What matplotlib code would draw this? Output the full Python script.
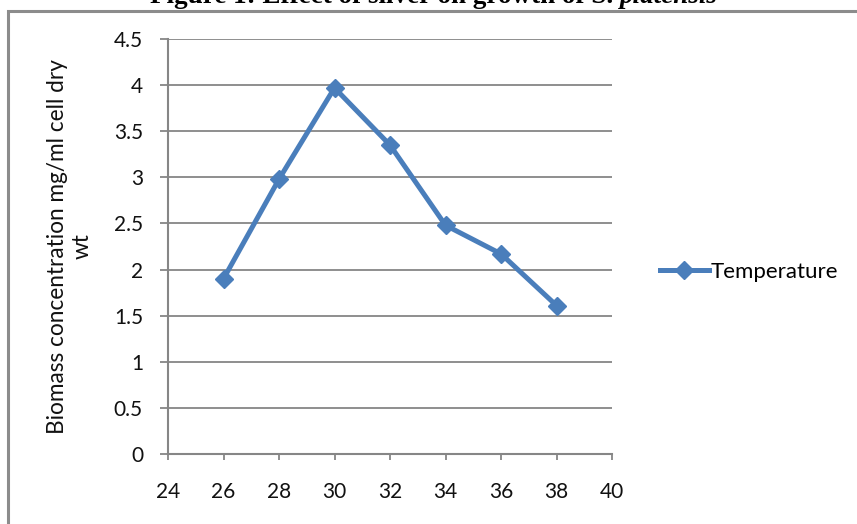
import matplotlib
matplotlib.use("Agg")
import matplotlib.pyplot as plt
from matplotlib.lines import Line2D

# Biomass vs. temperature
temperature = [26, 28, 30, 32, 34, 36, 38]
biomass = [1.90, 2.98, 3.97, 3.35, 2.48, 2.17, 1.61]
x_ticks = [24, 26, 28, 30, 32, 34, 36, 38, 40]
y_ticks = [0, 0.5, 1, 1.5, 2, 2.5, 3, 3.5, 4, 4.5]
y_tick_labels = ["0", "0.5", "1", "1.5", "2", "2.5", "3", "3.5", "4", "4.5"]
series_name = "Temperature"
y_label = "Biomass concentration mg/ml cell dry\nwt"
title_main = "Figure 1: Effect of silver on growth of S. "
title_italic = "platensis"

W, H = 857, 524
DPI = 100
plt.rcParams["font.family"] = ["Lato", "DejaVu Sans"]

fig = plt.figure(figsize=(W / DPI, H / DPI), dpi=DPI)
fig.patch.set_facecolor("white")

# chart frame (left and top edges visible)
frame_color = "#8c8c8c"
fig.add_artist(Line2D([8 / W, 8 / W, 1.01], [-0.01, 1 - 11 / H, 1 - 11 / H],
                      transform=fig.transFigure, color=frame_color, lw=2.2,
                      solid_joinstyle="miter"))

ax_w = 612 - 168
ax = fig.add_axes([168 / W, 1 - 454 / H, ax_w / W, (454 - 39) / H])
grid_color = "#868686"

ax.set_xlim(24, 40)
ax.set_ylim(0, 4.5)
ax.set_xticks(x_ticks)
ax.set_xticklabels([str(v) for v in x_ticks])
ax.set_yticks(y_ticks)
ax.set_yticklabels(y_tick_labels)

ax.yaxis.grid(True, color=grid_color, lw=1.3)
ax.set_axisbelow(True)
for s in ("top", "right"):
    ax.spines[s].set_visible(False)
for s in ("left", "bottom"):
    ax.spines[s].set_color(grid_color)
    ax.spines[s].set_linewidth(1.5)

ax.tick_params(axis="y", direction="out", length=6, width=1.3, color=grid_color,
               pad=12, labelsize=15, labelcolor="#111111")
ax.tick_params(axis="x", direction="out", length=4.5, width=1.3, color=grid_color,
               pad=16, labelsize=15, labelcolor="#111111")

line_color = "#4a7ebb"
ax.plot(temperature, biomass, color=line_color, lw=3.6, marker="D",
        markersize=9.5, markerfacecolor=line_color, markeredgecolor=line_color,
        label=series_name, clip_on=False)

ax.set_ylabel(y_label, fontsize=16.3, linespacing=1.22, color="#111111")
ax.yaxis.set_label_coords((93 - 168) / ax_w, 0.5)

leg = fig.legend(loc="center left", bbox_to_anchor=(660 / W, 1 - 272 / H),
                 frameon=False, fontsize=16, handlelength=2.2,
                 handletextpad=0.1, borderaxespad=0, borderpad=0)

# title, partly above the chart frame
renderer = fig.canvas.get_renderer()
t1 = fig.text(150 / W, 1 - 3.3 / H, title_main, family="Liberation Serif",
              weight="bold", fontsize=19.5, va="baseline", ha="left")
bb = t1.get_window_extent(renderer)
fig.text(bb.x1 / W, 1 - 3.3 / H, title_italic, family="Liberation Serif",
         weight="bold", style="italic", fontsize=19.5, va="baseline", ha="left")

fig.savefig("out.png", dpi=DPI)
